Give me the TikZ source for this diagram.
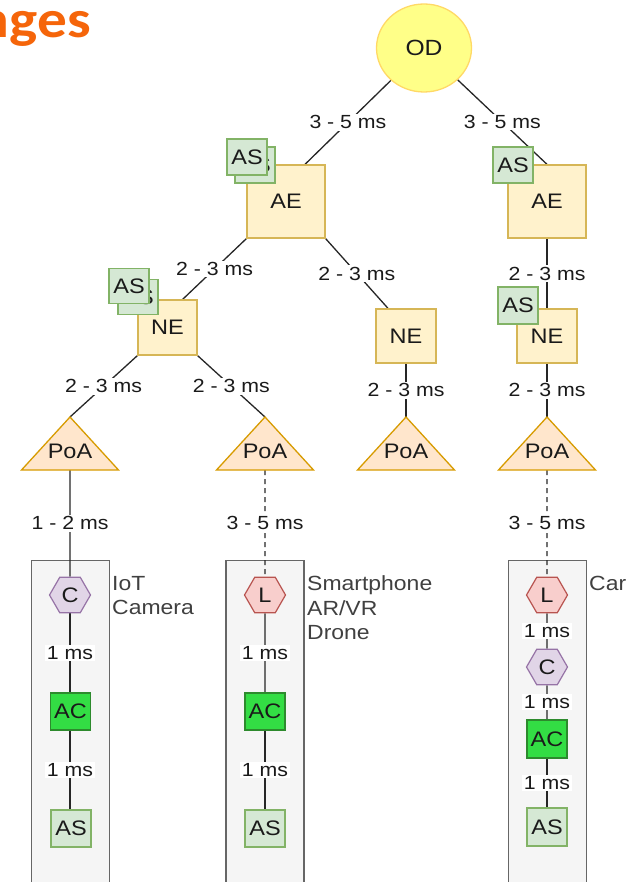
\documentclass[tikz,border=0pt]{standalone}
\usepackage{fontspec}
\setmainfont[FakeStretch=1.12]{Liberation Sans}
\newfontfamily\titlefont[FakeStretch=1.12]{Carlito}
\usetikzlibrary{shapes.geometric,calc}
\pgfdeclarelayer{boxes}
\pgfdeclarelayer{edges}
\pgfsetlayers{boxes,edges,main}
\definecolor{txt}{HTML}{1A1A1A}
\definecolor{devtxt}{HTML}{404040}
\definecolor{odfill}{HTML}{FFFF88}
\definecolor{oddraw}{HTML}{FFD966}
\definecolor{aefill}{HTML}{FFF2CC}
\definecolor{aedraw}{HTML}{D6B656}
\definecolor{asfill}{HTML}{D5E8D4}
\definecolor{asdraw}{HTML}{82B366}
\definecolor{poafill}{HTML}{FFE6CC}
\definecolor{poadraw}{HTML}{D79B00}
\definecolor{cfill}{HTML}{E1D5E7}
\definecolor{cdraw}{HTML}{9673A6}
\definecolor{lfill}{HTML}{F8CECC}
\definecolor{ldraw}{HTML}{B85450}
\definecolor{acfill}{HTML}{33DD44}
\definecolor{acdraw}{HTML}{2D8A2D}
\definecolor{devfill}{HTML}{F5F5F5}
\definecolor{devdraw}{HTML}{666666}
\definecolor{titlecol}{HTML}{F5650A}
\begin{document}
\begin{tikzpicture}[x=1pt,y=-1pt,
  font=\fontsize{19}{23}\selectfont,
  sq/.style={draw, line width=1.3pt, inner sep=0pt, text=txt, font=\fontsize{21}{24}\selectfont},
  aebox/.style={sq, fill=aefill, draw=aedraw, minimum width=78pt, minimum height=73pt},
  nebox/.style={sq, fill=aefill, draw=aedraw, minimum width=59pt, minimum height=55pt},
  asbox/.style={sq, fill=asfill, draw=asdraw, minimum width=40pt, minimum height=36pt},
  acbox/.style={sq, fill=acfill, draw=acdraw, minimum width=40pt, minimum height=37pt},
  hexbox/.style={regular polygon, regular polygon sides=6, minimum size=41pt, inner sep=0pt, line width=1.2pt, text=txt, font=\fontsize{21}{24}\selectfont},
  chex/.style={hexbox, fill=cfill, draw=cdraw},
  lhex/.style={hexbox, fill=lfill, draw=ldraw},
  poa/.style={fill=poafill, draw=poadraw, line width=1.3pt, line join=miter},
  devbox/.style={draw=devdraw, fill=devfill, line width=1.3pt, minimum width=78pt, minimum height=340pt, anchor=north, inner sep=0pt},
  lat/.style={fill=white, inner sep=1.5pt, text=txt},
  conn/.style={line width=1.3pt, draw=black!85},
  dashconn/.style={conn, dash pattern=on 5pt off 4pt},
  devlabel/.style={text=devtxt, align=left, anchor=north west, inner sep=0pt, font=\fontsize{20.5}{24.5}\selectfont}
]
\useasboundingbox (0,0) rectangle (633,882);
\clip (0,0) rectangle (633,882);

% title fragment
\node[anchor=base east, inner sep=0pt, text=titlecol, font=\titlefont\bfseries\fontsize{53}{53}\selectfont] (title) at (91,38) {nges};

% device boxes
\begin{pgfonlayer}{boxes}
\node[devbox] (B1) at (70.5,560) {};
\node[devbox] (B2) at (265,560) {};
\node[devbox] (B4) at (547.5,560) {};
\end{pgfonlayer}

% top
\node[ellipse, fill=odfill, draw=oddraw, line width=1.3pt, minimum width=95pt, minimum height=88pt, text=txt, font=\fontsize{22}{24}\selectfont] (OD) at (424,48) {OD};
\node[aebox] (AEl) at (286,201.5) {AE};
\node[aebox] (AEr) at (547,201.5) {AE};
\node[asbox] (ASa2) at (255,165) {AS};
\node[asbox] (ASa1) at (247,157) {AS};
\node[asbox] (ASb) at (513,165) {AS};

\node[nebox] (NEl) at (167.5,327.5) {NE};
\node[nebox, minimum width=60pt, minimum height=54pt] (NEm) at (406,336) {NE};
\node[nebox, minimum width=60pt, minimum height=54pt] (NEr) at (547,336) {NE};
\node[asbox, minimum height=35pt] (ASc2) at (138,297) {AS};
\node[asbox, minimum height=35pt] (ASc1) at (129,286) {AS};
\node[asbox, minimum height=37pt] (ASd) at (518,305.5) {AS};

% PoA triangles
\foreach \n/\x in {1/70,2/265,3/406,4/547}{
  \filldraw[poa] (\x-48.5,470) -- (\x,417) -- (\x+48.5,470) -- cycle;
  \node[text=txt, inner sep=0pt, font=\fontsize{21}{24}\selectfont] (P\n) at (\x,451) {PoA};
  \coordinate (P\n t) at (\x,417);
  \coordinate (P\n b) at (\x,470);
}

% column 1
\node[chex] (C1) at (70,595) {C};
\node[acbox] (AC1) at (70.5,711.5) {AC};
\node[asbox, minimum height=37pt] (AS1) at (71,828.5) {AS};
\node[devlabel] (D1) at (112,576) {IoT\\Camera};

% column 2
\node[lhex] (L2) at (265,595) {L};
\node[acbox] (AC2) at (265,711.5) {AC};
\node[asbox, minimum height=37pt] (AS2) at (265,828.5) {AS};
\node[devlabel] (D2) at (307,575.5) {Smartphone\\AR/VR\\Drone};

% column 4
\node[lhex] (L4) at (547,595) {L};
\node[chex] (C4) at (547,667) {C};
\node[acbox, minimum height=38pt] (AC4) at (547,739) {AC};
\node[asbox, minimum height=38pt] (AS4) at (547,827) {AS};
\node[devlabel] (D4) at (589,575.5) {Car};

% connectors
\begin{pgfonlayer}{edges}
\draw[conn] (OD) -- node[lat]{3 - 5 ms} ([xshift=19pt]AEl.north);
\draw[conn] (OD) -- node[lat]{3 - 5 ms} (AEr.north);
\draw[conn] (AEl.south west) -- node[lat]{2 - 3 ms} ([xshift=-15pt]NEl.north east);
\draw[conn] (AEl.south east) -- node[lat]{2 - 3 ms} ([xshift=-18pt]NEm.north);
\draw[conn] (AEr.south) -- node[lat]{2 - 3 ms} (NEr.north);
\draw[conn] (NEl.south west) -- node[lat]{2 - 3 ms} (P1t);
\draw[conn] (NEl.south east) -- node[lat]{2 - 3 ms} (P2t);
\draw[conn] (NEm.south) -- node[lat]{2 - 3 ms} (P3t);
\draw[conn] (NEr.south) -- node[lat]{2 - 3 ms} (P4t);
\draw[conn] (P1b) -- node[lat]{1 - 2 ms} (C1.north);
\draw[dashconn] (P2b) -- node[lat]{3 - 5 ms} (L2.north);
\draw[dashconn] (P4b) -- node[lat]{3 - 5 ms} (L4.north);
\draw[conn] (C1.south) -- node[lat]{1 ms} (AC1.north -| C1.south);
\draw[conn] (AC1.south -| C1.south) -- node[lat]{1 ms} (AS1.north -| C1.south);
\draw[conn] (L2.south) -- node[lat]{1 ms} (AC2.north);
\draw[conn] (AC2.south) -- node[lat]{1 ms} (AS2.north);
\draw[conn] (L4.south) -- node[lat]{1 ms} (C4.north);
\draw[conn] (C4.south) -- node[lat]{1 ms} (AC4.north);
\draw[conn] (AC4.south) -- node[lat]{1 ms} (AS4.north);
\end{pgfonlayer}
\end{tikzpicture}
\end{document}
